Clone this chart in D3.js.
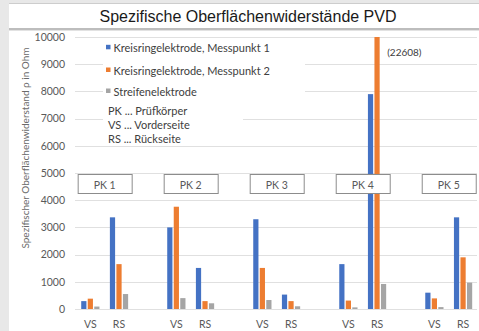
<!DOCTYPE html>
<html>
<head>
<meta charset="utf-8">
<script src="https://cdn.jsdelivr.net/npm/d3@7"></script>
<style>
  body { margin: 0; background: #fff; }
  svg { display: block; }
  text { font-family: Lato, "Open Sans", sans-serif; }
</style>
</head>
<body>
<svg id="chart" width="479" height="331"></svg>
<script>
// ---- data ----
const title = "Spezifische Oberflächenwiderstände PVD";
const yTitle = "Spezifischer Oberflächenwiderstand \u03c1 in Ohm";
const specimens = ["PK 1", "PK 2", "PK 3", "PK 4", "PK 5"];
const sides = ["VS", "RS"];
const seriesNames = ["Kreisringelektrode, Messpunkt 1", "Kreisringelektrode, Messpunkt 2", "Streifenelektrode"];
// order: PK1 VS, PK1 RS, PK2 VS, PK2 RS, ... PK5 RS
const messpunkt1 = [290, 3370, 3000, 1510, 3300, 530, 1650, 7900, 600, 3370];
const messpunkt2 = [380, 1650, 3760, 290, 1510, 290, 310, 22608, 390, 1900];
const streifen   = [90, 550, 400, 210, 330, 100, 60, 920, 70, 970];
const yTicks = [0, 1000, 2000, 3000, 4000, 5000, 6000, 7000, 8000, 9000, 10000];
const notes = ["PK ... Prüfkörper", "VS ... Vorderseite", "RS ... Rückseite"];
const colors = ["#4472C4", "#ED7D31", "#A5A5A5"];

const seriesValues = [messpunkt1, messpunkt2, streifen];

const svg = d3.select("#chart");
const W = 479, H = 331;

// ---- frame ----
svg.append("rect").attr("width", W).attr("height", H).attr("fill", "#fff");
svg.append("rect").attr("x", 0).attr("y", 0).attr("width", W).attr("height", 3).attr("fill", "#e8e8e8");
svg.append("rect").attr("x", 0).attr("y", 3).attr("width", W).attr("height", 1).attr("fill", "#cdcdcd");
svg.append("rect").attr("x", 0).attr("y", 0).attr("width", 9).attr("height", H).attr("fill", "#e8e8e8");
svg.append("rect").attr("x", 9).attr("y", 28).attr("width", W - 9).attr("height", 2).attr("fill", "#bdbdbd");
svg.append("rect").attr("x", 9).attr("y", 30).attr("width", W - 9).attr("height", 1).attr("fill", "#e2e2e2");

svg.append("text")
  .attr("x", 248).attr("y", 16)
  .attr("text-anchor", "middle").attr("dominant-baseline", "central")
  .style("font-family", "'Liberation Sans', Arial, sans-serif")
  .attr("font-size", 16).attr("fill", "#1a1a1a")
  .text(title);

// ---- scales ----
// each specimen occupies three slots: VS, RS and a spacer (last spacer omitted)
const slots = [];
specimens.forEach((pk, i) => {
  sides.forEach(s => slots.push(pk + "|" + s));
  if (i < specimens.length - 1) slots.push(pk + "|gap");
});
const x = d3.scaleBand().domain(slots).range([76, 477.4]).padding(0);
const xInner = d3.scaleBand().domain(seriesNames).range([0, x.bandwidth()])
  .paddingInner(0.2).paddingOuter(0.8);
const y = d3.scaleLinear().domain([0, 10000]).range([309, 37]).clamp(true);

// ---- gridlines ----
svg.append("g").selectAll("line").data(yTicks).join("line")
  .attr("x1", 75).attr("x2", 477)
  .attr("y1", d => Math.round(y(d)) + 0.5).attr("y2", d => Math.round(y(d)) + 0.5)
  .attr("stroke", "#e0e0e0").attr("stroke-width", 1);

// ---- y axis labels ----
const yAxis = d3.axisLeft(y).tickValues(yTicks).tickSize(0).tickPadding(0).tickFormat(d3.format("d"));
const gy = svg.append("g").attr("transform", "translate(65,0)").call(yAxis);
gy.select(".domain").remove();
gy.selectAll("text").attr("font-size", 10.5).attr("fill", "#595959")
  .style("font-family", "Lato, sans-serif");

svg.append("text")
  .attr("transform", "translate(25,148) rotate(-90)")
  .attr("text-anchor", "middle").attr("dominant-baseline", "central")
  .attr("font-size", 10).attr("fill", "#6a6a6a")
  .text(yTitle);

// ---- legend / notes backgrounds ----
svg.append("rect").attr("x", 103).attr("y", 40).attr("width", 202).attr("height", 60).attr("fill", "#fff");
svg.append("rect").attr("x", 103).attr("y", 102).attr("width", 140).attr("height", 40).attr("fill", "#fff");

// ---- bars ----
const rows = [];
specimens.forEach((pk, i) => sides.forEach((s, j) => {
  const idx = i * 2 + j;
  seriesNames.forEach((name, k) => rows.push({ slot: pk + "|" + s, name, k, value: seriesValues[k][idx] }));
}));

svg.append("g").selectAll("rect").data(rows).join("rect")
  .attr("x", d => x(d.slot) + xInner(d.name))
  .attr("width", xInner.bandwidth())
  .attr("y", d => y(d.value))
  .attr("height", d => y(0) - y(d.value))
  .attr("fill", d => colors[d.k]);

// value note for the clipped bar
const clipped = rows.filter(d => d.value > 10000);
svg.append("g").selectAll("text").data(clipped).join("text")
  .attr("x", d => x(d.slot) + xInner(d.name) + xInner.bandwidth() + 7.5)
  .attr("y", y(10000) + 15)
  .attr("dominant-baseline", "central")
  .attr("font-size", 10).attr("fill", "#404040")
  .text(d => "(" + d.value + ")");

// ---- x labels ----
const xLabels = [];
specimens.forEach(pk => sides.forEach(s => xLabels.push({ slot: pk + "|" + s, s })));
svg.append("g").selectAll("text").data(xLabels).join("text")
  .attr("x", d => x(d.slot) + x.bandwidth() / 2)
  .attr("y", 324)
  .attr("text-anchor", "middle").attr("dominant-baseline", "central")
  .attr("font-size", 10.5).attr("fill", "#595959")
  .text(d => d.s);

// ---- specimen boxes ----
const boxW = 54, boxH = 19, boxY = 174;
const boxes = svg.append("g").selectAll("g").data(specimens).join("g")
  .attr("transform", d => `translate(${x(d + "|RS")},0)`);
boxes.append("rect")
  .attr("x", -boxW / 2 + 0.5).attr("y", boxY + 0.5)
  .attr("width", boxW).attr("height", boxH)
  .attr("fill", "#fff").attr("stroke", "#8c8c8c").attr("stroke-width", 1);
boxes.append("text")
  .attr("x", 0).attr("y", boxY + boxH / 2 + 1)
  .attr("text-anchor", "middle").attr("dominant-baseline", "central")
  .attr("font-size", 10.5).attr("fill", "#595959")
  .text(d => d);

// ---- legend ----
const legendY = [47.3, 70, 91];
const lg = svg.append("g").selectAll("g").data(seriesNames).join("g")
  .attr("transform", (d, i) => `translate(106,${legendY[i]})`);
lg.append("rect").attr("x", 0).attr("y", -2.5).attr("width", 4.5).attr("height", 4.5)
  .attr("fill", (d, i) => colors[i]);
lg.append("text").attr("x", 7.5).attr("y", 0)
  .attr("dominant-baseline", "central")
  .attr("font-size", 11).attr("fill", "#404040")
  .text(d => d);

const noteY = [110.7, 124.3, 138.3];
svg.append("g").selectAll("text").data(notes).join("text")
  .attr("x", 108).attr("y", (d, i) => noteY[i])
  .attr("dominant-baseline", "central")
  .attr("font-size", 11).attr("fill", "#404040")
  .text(d => d);
</script>
</body>
</html>
